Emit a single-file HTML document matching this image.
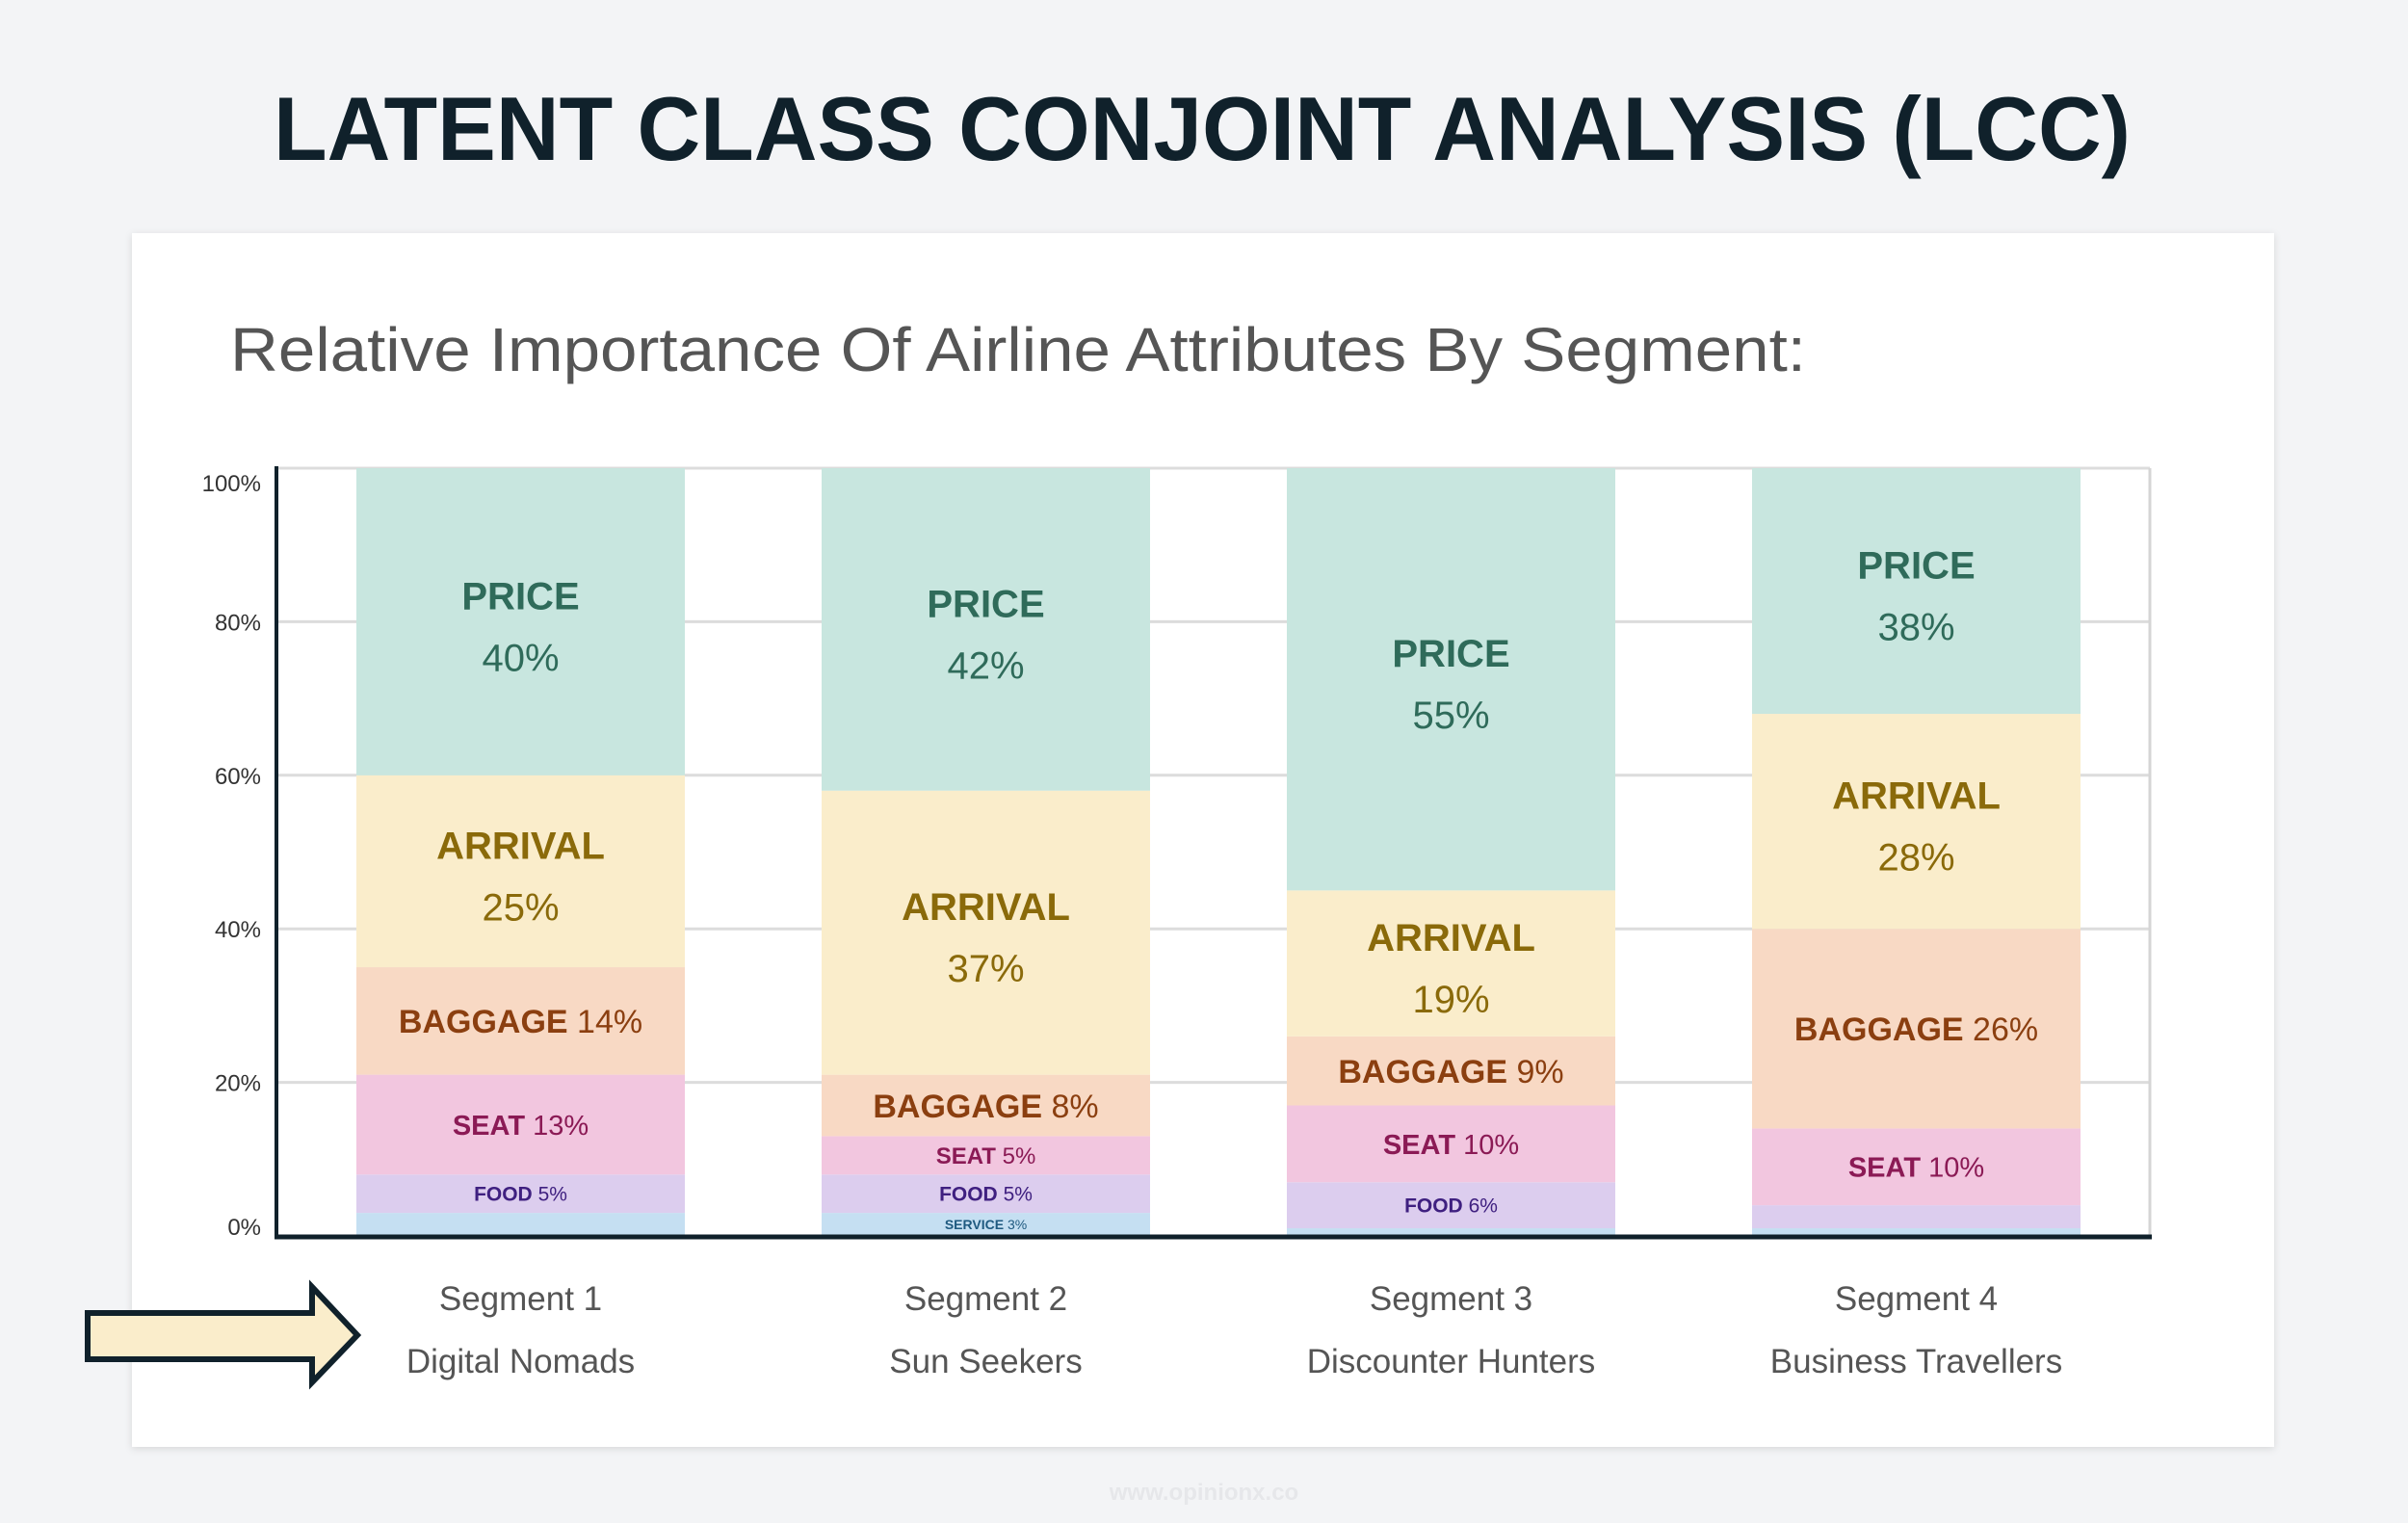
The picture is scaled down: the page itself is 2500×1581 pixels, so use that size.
<!DOCTYPE html>
<html><head><meta charset="utf-8"><style>
html,body{margin:0;padding:0;background:#f3f4f6;}
svg{display:block;font-family:"Liberation Sans",sans-serif;}
</style></head><body>
<svg id="chart" width="2500" height="1581" viewBox="0 0 2500 1581">
<defs><filter id="sh" x="-5%" y="-5%" width="110%" height="110%"><feDropShadow dx="0" dy="2" stdDeviation="4" flood-color="#000" flood-opacity="0.12"/></filter></defs>
<rect x="0" y="0" width="2500" height="1581" fill="#f3f4f6"/>
<text x="1248" y="166" text-anchor="middle" font-size="94" font-weight="bold" fill="#10212b" textLength="1928" lengthAdjust="spacingAndGlyphs">LATENT CLASS CONJOINT ANALYSIS (LCC)</text>
<rect x="137" y="242" width="2224" height="1260" fill="#fff" filter="url(#sh)"/>
<text x="239" y="385" font-size="64" fill="#555" textLength="1636" lengthAdjust="spacingAndGlyphs">Relative Importance Of Airline Attributes By Segment:</text>
<g id="grid"></g>
<g id="bars"></g>
<g id="axes"></g>
<polygon points="91,1363 324,1363 324,1336 371,1386 324,1435 324,1411 91,1411" fill="#faedcb" stroke="#10212b" stroke-width="6"/>
<text x="1250" y="1557" text-anchor="middle" font-size="24" font-weight="bold" fill="#e6e7ea">www.opinionx.co</text>
</svg>
<script>
const segments = ["Segment 1","Segment 2","Segment 3","Segment 4"];
const segmentNames = ["Digital Nomads","Sun Seekers","Discounter Hunters","Business Travellers"];
const categories = ["SERVICE","FOOD","SEAT","BAGGAGE","ARRIVAL","PRICE"];
const service = [3,3,1,1];
const food = [5,5,6,3];
const seat = [13,5,10,10];
const baggage = [14,8,9,26];
const arrival = [25,37,19,28];
const price = [40,42,55,32];
const printedLabels = [
  ["","5%","13%","14%","25%","40%"],
  ["3%","5%","5%","8%","37%","42%"],
  ["","6%","10%","9%","19%","55%"],
  ["","","10%","26%","28%","38%"]
];
const yTicks = [0,20,40,60,80,100];
const yTickLabels = ["0%","20%","40%","60%","80%","100%"];

const NS="http://www.w3.org/2000/svg";
const X0=287,X1=2232,Y0=1283,Y1=486;
const y=v=>Y0-(v/100)*(Y0-Y1);
const barX=i=>370+i*483, BW=341;
const fills=["#c5dff2","#dccdee","#f2c6df","#f8d9c4","#faedcb","#c8e6df"];
const inks=["#1f5a80","#3f2080","#8b1a55","#8b3f10","#8a6a0a","#2f6b5a"];
const sizes=[14,21,29,34,40,40];
const series=[service,food,seat,baggage,arrival,price];
function mk(tag,attrs,parent){const e=document.createElementNS(NS,tag);for(const k in attrs)e.setAttribute(k,attrs[k]);parent.appendChild(e);return e;}
const grid=document.getElementById('grid'),bars=document.getElementById('bars'),axes=document.getElementById('axes');
yTicks.forEach((t,i)=>{
  if(t>0){const l=mk('line',{x1:X0,x2:X1,y1:y(t),y2:y(t),stroke:'#dcdcdc','stroke-width':3},grid);
  
  }
  const ty=t===100?y(t)+24:(t===0?y(t)-1:y(t)+9);
  const tx=mk('text',{x:271,y:ty,'text-anchor':'end','font-size':24,fill:'#333'},axes);
  tx.textContent=yTickLabels[i];
  
  
});
const rb=mk('line',{x1:X1,x2:X1,y1:Y1,y2:Y0,stroke:'#d5d5d5','stroke-width':3},grid);


segments.forEach((s,i)=>{
  let cum=0;
  const g=mk('g',{},bars);
  
  
  const cx=barX(i)+BW/2;
  series.forEach((arr,c)=>{
    const v=arr[i];const top=y(cum+v),bot=y(cum);
    const r=mk('rect',{x:barX(i),y:top,width:BW,height:Math.max(0,bot-top),fill:fills[c]},g);
    
    
    const lab=printedLabels[i][c];
    if(lab){
      const mid=(top+bot)/2;
      let fs=sizes[c]; if(c===2&&v<8)fs=24;
      if(c>=4){
        const t1=mk('text',{x:cx,y:mid-27+14,'text-anchor':'middle','font-size':fs,'font-weight':'bold',fill:inks[c]},g);
        t1.textContent=categories[c];
        
        
        const t2=mk('text',{x:cx,y:mid+37+14,'text-anchor':'middle','font-size':fs,fill:inks[c]},g);
        t2.textContent=lab;
        
        
      } else {
        const t=mk('text',{x:cx,y:mid+fs*0.36,'text-anchor':'middle','font-size':fs,fill:inks[c]},g);
        const b=mk('tspan',{'font-weight':'bold'},t);b.textContent=categories[c]+' ';
        const p=mk('tspan',{},t);p.textContent=lab;
        
        
      }
    }
    cum+=v;
  });
  const sl=mk('text',{x:cx,y:1360,'text-anchor':'middle','font-size':35,fill:'#555'},axes);
  sl.textContent=s;
  
  
  const sn=mk('text',{x:cx,y:1425,'text-anchor':'middle','font-size':35,fill:'#555'},axes);
  sn.textContent=segmentNames[i];
  
  
});
const ya=mk('line',{x1:X0,x2:X0,y1:Y1-2,y2:Y0+3,stroke:'#10212b','stroke-width':4},axes);


const xa=mk('line',{x1:X0-2,x2:X1+2,y1:Y0+1,y2:Y0+1,stroke:'#10212b','stroke-width':5},axes);


</script>
</body></html>
